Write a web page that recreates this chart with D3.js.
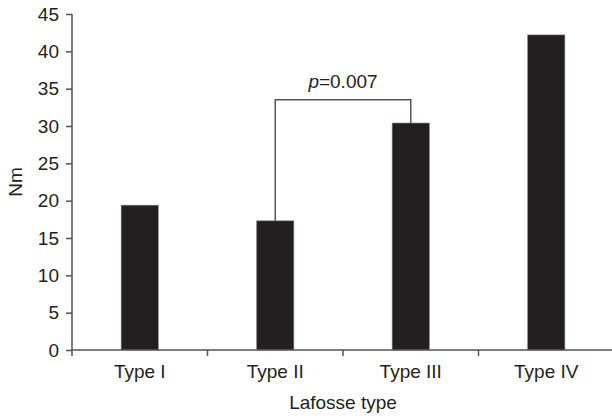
<!DOCTYPE html>
<html>
<head>
<meta charset="utf-8">
<script src="https://cdn.jsdelivr.net/npm/d3@7"></script>
<style>
  body { margin: 0; background: #fff; }
  text { font-family: "Liberation Sans", Arial, sans-serif; fill: #231f20; }
</style>
</head>
<body>
<div id="chart"></div>
<script>
// data
const types  = ['Type I', 'Type II', 'Type III', 'Type IV'];
const torque = [19.4, 17.3, 30.4, 42.2];
const yTicks = [0, 5, 10, 15, 20, 25, 30, 35, 40, 45];
const compare = ['Type II', 'Type III'];
const bracketLevel = 33.5;
const pLabel = '0.007';

const W = 612, H = 416;
const axisCol = '#555';

const svg = d3.select('#chart').append('svg')
    .attr('width', W).attr('height', H);

const x = d3.scaleBand().domain(types).range([72, 614]);
const y = d3.scaleLinear().domain([0, 45]).range([350, 14]);
const bw = x.bandwidth() * 0.275;
const cx = d => x(d) + x.bandwidth() / 2;

// bars
svg.append('g').selectAll('rect').data(types).join('rect')
    .attr('x', d => cx(d) - bw / 2)
    .attr('y', (d, i) => y(torque[i]))
    .attr('width', bw)
    .attr('height', (d, i) => y(0) - y(torque[i]))
    .attr('fill', '#231f20')
    .attr('stroke', '#8a8a8a').attr('stroke-width', 0.6);

// y axis
const yAxis = svg.append('g')
    .attr('transform', 'translate(72,0)')
    .call(d3.axisLeft(y).tickValues(yTicks).tickSize(6).tickPadding(7).tickSizeOuter(0));
yAxis.select('.domain').remove();
yAxis.append('line')
    .attr('x1', 0).attr('x2', 0).attr('y1', y(45)).attr('y2', y(0) + 6)
    .attr('stroke', axisCol).attr('stroke-width', 1.5);
yAxis.selectAll('.tick line').attr('stroke', axisCol).attr('stroke-width', 1.5);
yAxis.selectAll('.tick text')
    .style('font-size', '19px').style('font-family', '"Liberation Sans", Arial, sans-serif')
    .attr('fill', '#231f20');

// x axis
const xg = svg.append('g');
xg.append('line')
    .attr('x1', x.range()[0]).attr('x2', x.range()[1])
    .attr('y1', y(0)).attr('y2', y(0))
    .attr('stroke', axisCol).attr('stroke-width', 1.5);
xg.selectAll('line.sep').data(types.slice(1)).join('line')
    .attr('class', 'sep')
    .attr('x1', d => x(d)).attr('x2', d => x(d))
    .attr('y1', y(0)).attr('y2', y(0) + 6)
    .attr('stroke', axisCol).attr('stroke-width', 1.5);
xg.selectAll('text').data(types).join('text')
    .attr('x', cx).attr('y', 378)
    .attr('text-anchor', 'middle')
    .style('font-size', '19px')
    .text(d => d);

// axis titles
svg.append('text')
    .attr('transform', `translate(22,${(y(0) + y(45)) / 2}) rotate(-90)`)
    .attr('text-anchor', 'middle')
    .style('font-size', '19px')
    .text('Nm');
svg.append('text')
    .attr('x', (x.range()[0] + x.range()[1]) / 2).attr('y', 409)
    .attr('text-anchor', 'middle')
    .style('font-size', '19px')
    .text('Lafosse type');

// significance bracket
const i0 = types.indexOf(compare[0]), i1 = types.indexOf(compare[1]);
const bx0 = cx(compare[0]), bx1 = cx(compare[1]), by = y(bracketLevel);
svg.append('path')
    .attr('d', `M${bx0},${y(torque[i0])}V${by}H${bx1}V${y(torque[i1])}`)
    .attr('fill', 'none').attr('stroke', axisCol).attr('stroke-width', 1.5);
const pt = svg.append('text')
    .attr('x', (bx0 + bx1) / 2).attr('y', 88)
    .attr('text-anchor', 'middle')
    .style('font-size', '19px');
pt.append('tspan').style('font-style', 'italic').text('p');
pt.append('tspan').text('=' + pLabel);
</script>
</body>
</html>
